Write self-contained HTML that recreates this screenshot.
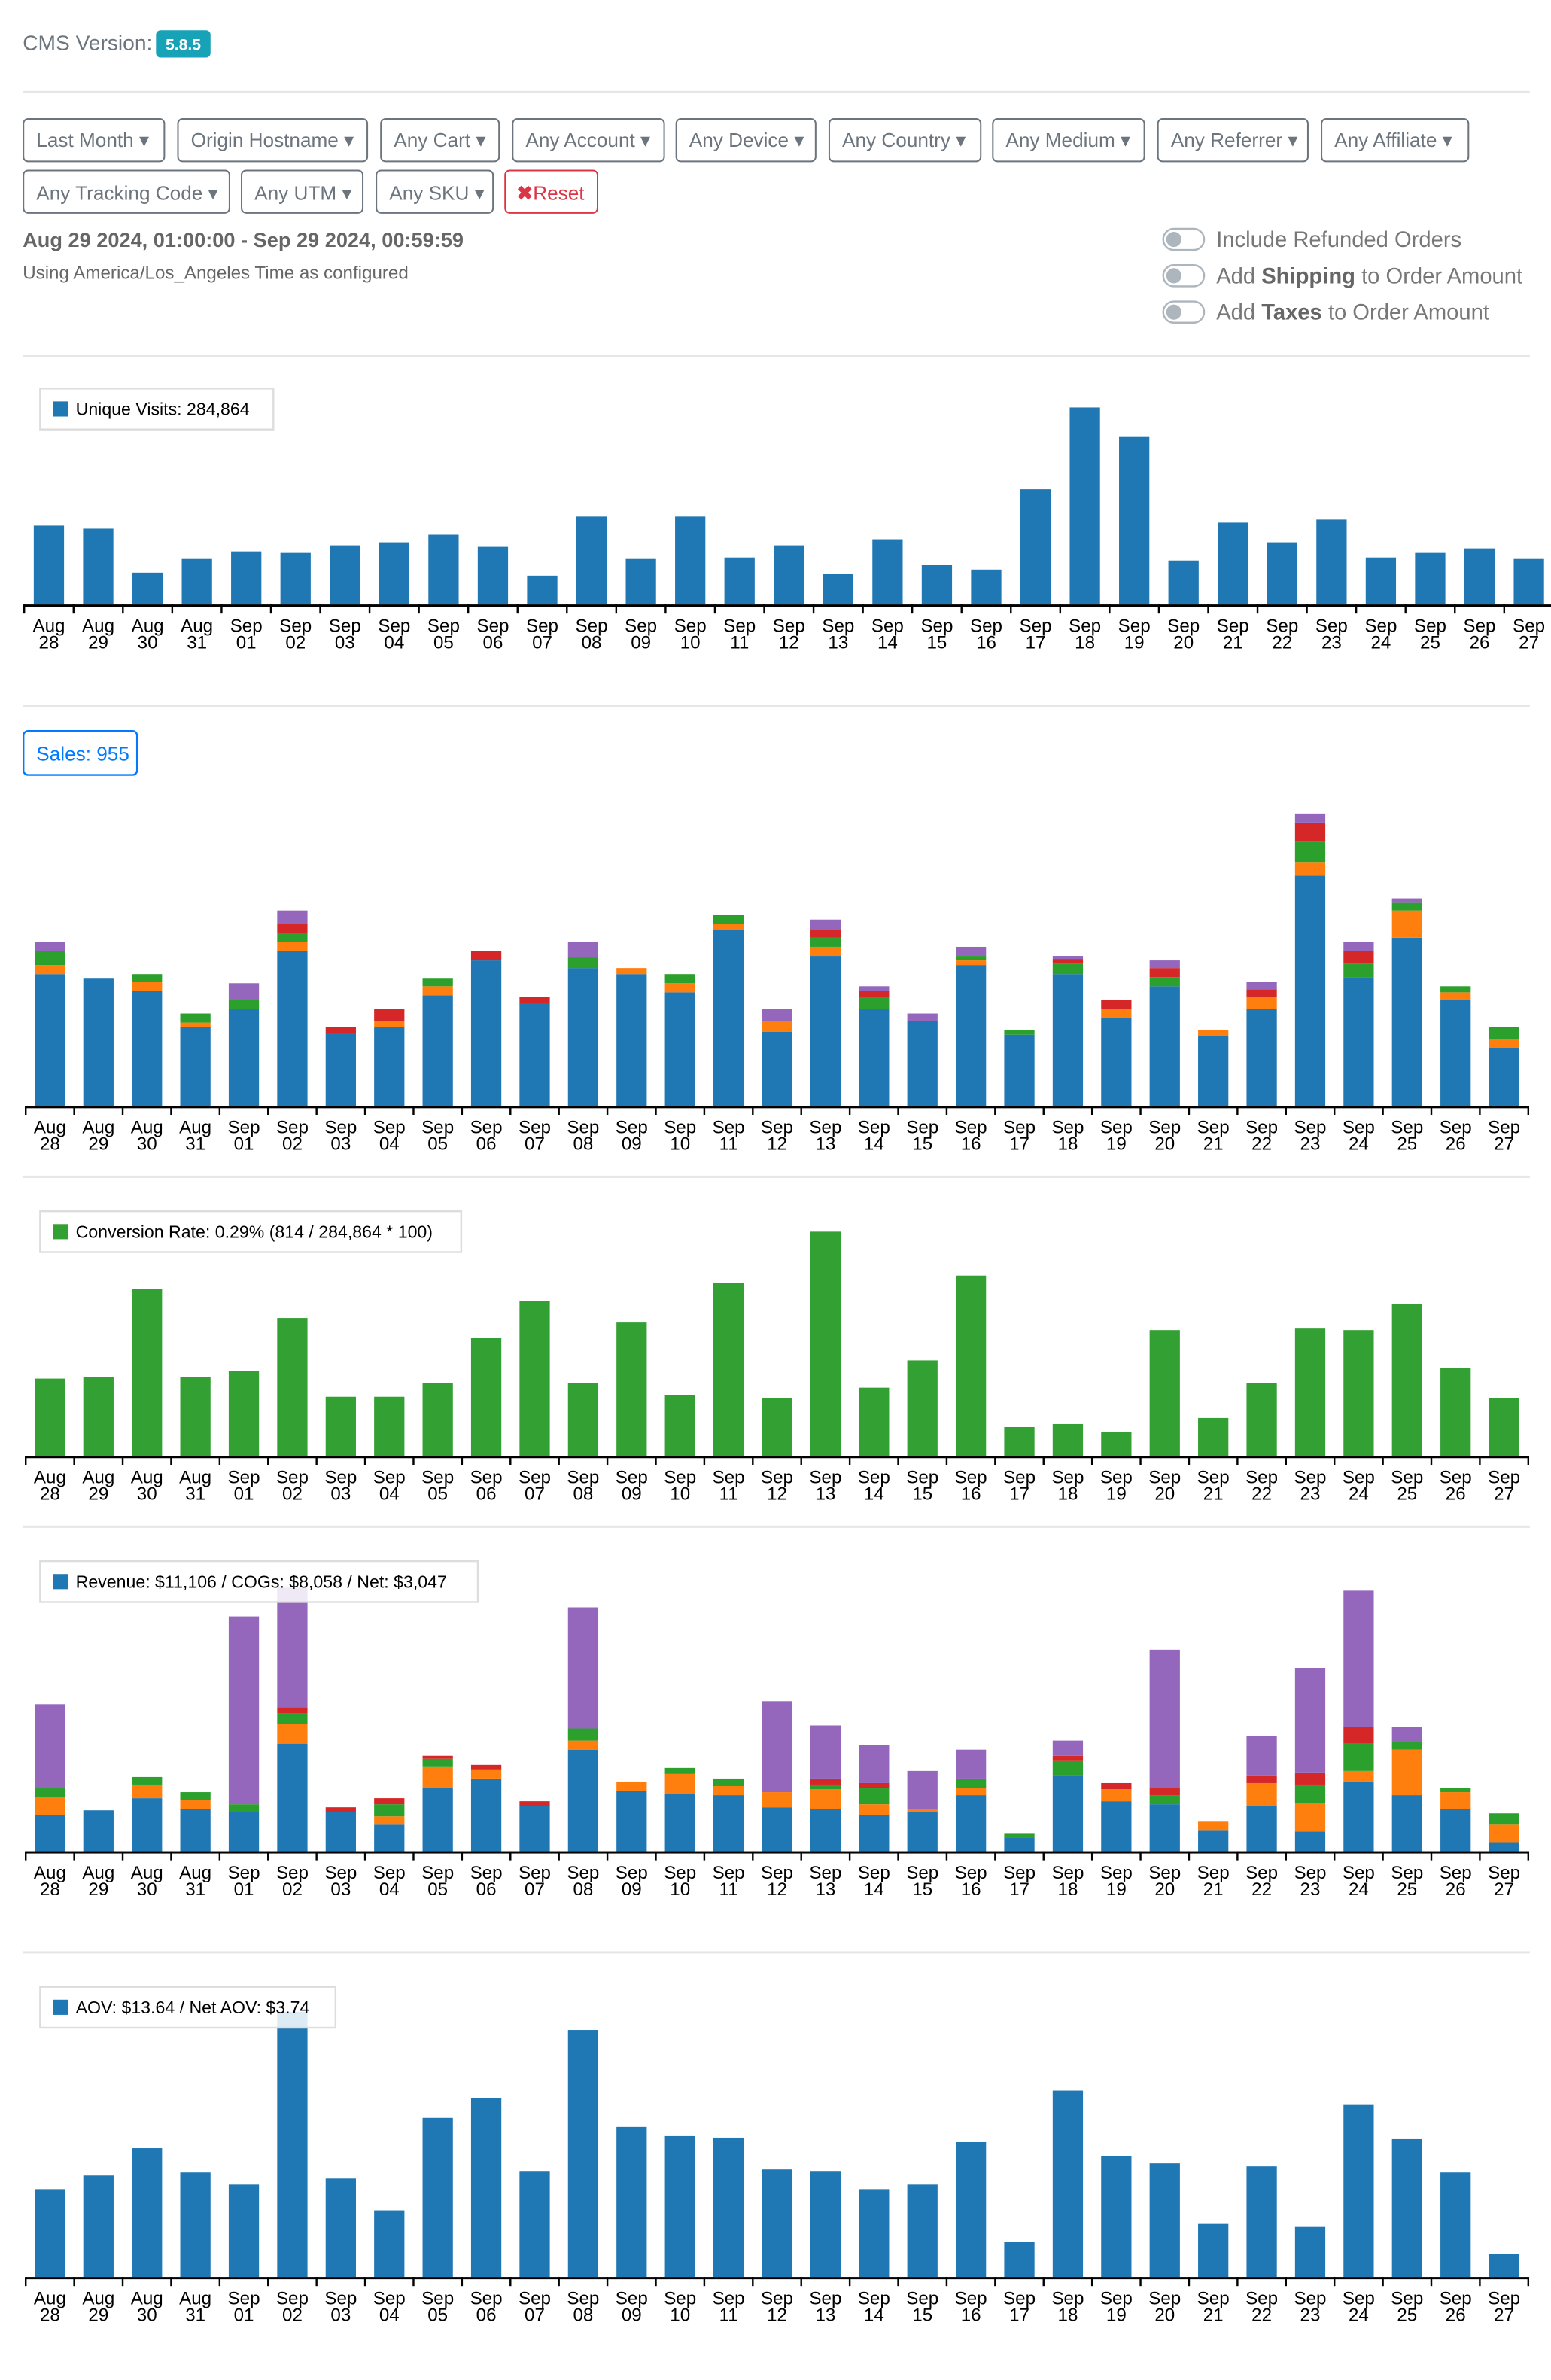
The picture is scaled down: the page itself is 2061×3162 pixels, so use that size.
<!DOCTYPE html>
<html><head><meta charset="utf-8"><style>
html,body{margin:0;padding:0;background:#fff;}
svg{display:block}
</style></head><body>
<svg id="s" xmlns="http://www.w3.org/2000/svg" width="2061" height="3162" viewBox="0 0 1024 1571" font-family="Liberation Sans, Arial, sans-serif">
<rect width="1024" height="1571" fill="#fff"/>
<text x="15" y="33" font-size="14" fill="#6c757d" font-family="Liberation Sans Narrow, Liberation Sans, sans-serif">CMS Version:</text>
<rect x="103" y="20" width="36" height="18" rx="3" fill="#17a2b8"/>
<text x="121" y="33" font-size="10.5" font-weight="bold" fill="#fff" text-anchor="middle">5.8.5</text>
<g id="g"></g>
<text x="15" y="163" font-size="13.5" font-weight="bold" fill="#666" font-family="Liberation Sans Narrow, Liberation Sans, sans-serif">Aug 29 2024, 01:00:00 - Sep 29 2024, 00:59:59</text>
<text x="15" y="184" font-size="12" fill="#666" font-family="Liberation Sans Narrow, Liberation Sans, sans-serif">Using America/Los_Angeles Time as configured</text>
<text x="803" y="163" font-size="14.5" fill="#777" font-family="Liberation Sans Narrow, Liberation Sans, sans-serif">Include Refunded Orders</text>
<text x="803" y="187" font-size="14.5" fill="#777" font-family="Liberation Sans Narrow, Liberation Sans, sans-serif">Add <tspan font-weight="bold" fill="#666">Shipping</tspan> to Order Amount</text>
<text x="803" y="211" font-size="14.5" fill="#777" font-family="Liberation Sans Narrow, Liberation Sans, sans-serif">Add <tspan font-weight="bold" fill="#666">Taxes</tspan> to Order Amount</text>
</svg>
<script>
var g=document.getElementById('g'),h='';
function R(x,y,w,hh,f,extra){h+='<rect x="'+x+'" y="'+y+'" width="'+w+'" height="'+hh+'" fill="'+f+'" '+(extra||'')+'/>';}
function T(x,y,t,sz,f,extra){h+='<text x="'+x+'" y="'+y+'" font-size="'+sz+'" fill="'+f+'" '+(extra||'')+'>'+t+'</text>';}
[60,234,465,776,1007,1288].forEach(function(y){R(15,y,995,1.5,'#e6e6e6');});
var nf='font-family="Liberation Sans Narrow, Liberation Sans, sans-serif"';
var btn=[[15,108,'Last Month'],[117,242,'Origin Hostname'],[251,329,'Any Cart'],[338,438,'Any Account'],[446,538,'Any Device'],[547,647,'Any Country'],[655,755,'Any Medium'],[764,863,'Any Referrer'],[872,969,'Any Affiliate']];
btn.forEach(function(b){R(b[0]+.5,78.5,b[1]-b[0],28,'#fff','rx="3" stroke="#6c757d" stroke-width="1"');T(b[0]+9,97,b[2]+' \u25BE',13,'#6c757d',nf);});
[[15,151,'Any Tracking Code'],[159,239,'Any UTM'],[248,325,'Any SKU']].forEach(function(b){R(b[0]+.5,112.5,b[1]-b[0],28,'#fff','rx="3" stroke="#6c757d" stroke-width="1"');T(b[0]+9,132,b[2]+' \u25BE',13,'#6c757d',nf);});
R(333.5,112.5,61,28,'#fff','rx="3" stroke="#dc3545" stroke-width="1"');T(341,132,'<tspan font-weight="bold">\u2716</tspan>Reset',13,'#dc3545',nf);
[158,182,206].forEach(function(y){R(768,y-7,27,14,'#fff','rx="7" stroke="#adb5bd" stroke-width="1.2"');h+='<circle cx="775" cy="'+y+'" r="5" fill="#adb5bd"/>';});
var C=['#1f77b4','#ff7f0e','#2ca02c','#d62728','#9467bd'];
var L=[];for(var i=28;i<=31;i++)L.push(['Aug',''+i]);for(i=1;i<=27;i++)L.push(['Sep',(i<10?'0':'')+i]);
function axis(x0,sp,base){R(x0,base,sp*31,1.5,'#000');for(var i=0;i<=31;i++){R(x0+i*sp-.6,base,1.2,6,'#000');}
for(i=0;i<31;i++){var cx=x0+(i+.5)*sp;T(cx,base+18,L[i][0],12,'#000','text-anchor="middle"');T(cx,base+29,L[i][1],12,'#000','text-anchor="middle"');}}
function simple(x0,sp,base,tops,col){for(var i=0;i<31;i++){var cx=x0+(i+.5)*sp;R(cx-10,tops[i],20,base-tops[i],col);}axis(x0,sp,base);}
function stack(x0,sp,base,data){for(var i=0;i<31;i++){var cx=x0+(i+.5)*sp,prev=base;var d=data[i];for(var k=0;k<5;k++){if(d[k]==null)continue;R(cx-10,d[k],20,prev-d[k],C[k]);prev=d[k];}}axis(x0,sp,base);}
simple(16,32.57,399,[347,349,378,369,364,365,360,358,353,361,380,341,369,341,368,360,379,356,373,376,323,269,288,370,345,358,343,368,365,362,369],C[0]);
var n=null;
stack(17,32,730,[[643,637,628,n,622],[646,n,n,n,n],[654,648,643,n,n],[678,675,669,n,n],[666,n,660,n,649],[628,622,616,610,601],[682,n,n,678,n],[678,674,n,666,n],[657,651,646,n,n],[634,n,n,628,n],[662,n,n,658,n],[639,n,632,n,622],[643,639,n,n,n],[655,649,643,n,n],[614,610,604,n,n],[681,674,n,n,666],[631,625,619,614,607],[666,n,658,654,651],[674,n,n,n,669],[637,634,631,n,625],[683,n,680,n,n],[643,n,636,633,631],[672,666,n,660,n],[651,n,645,639,634],[684,680,n,n,n],[666,658,n,653,648],[578,569,555,543,537],[645,n,636,628,622],[619,601,596,n,593],[660,655,651,n,n],[692,686,678,n,n]]);
simple(17,32,961,[910,909,851,909,905,870,922,922,913,883,859,913,873,921,847,923,813,916,898,842,942,940,945,878,936,913,877,878,861,903,923],'#33a033');
stack(17,32,1222,[[1198,1186,1180,n,1125],[1195,n,n,n,n],[1187,1178,1173,n,n],[1194,1188,1183,n,n],[1196,n,1191,n,1067],[1151,1138,1131,1127,1048],[1196,n,n,1193,n],[1204,1199,1191,1187,n],[1180,1166,1161,1159,n],[1174,1168,n,1165,n],[1192,n,n,1189,n],[1155,1149,1141,n,1061],[1182,1176,n,n,n],[1184,1171,1167,n,n],[1185,1179,1174,n,n],[1193,1183,n,n,1123],[1194,1181,1178,1174,1139],[1198,1191,1180,1177,1152],[1196,1194,n,n,1169],[1185,1180,1174,n,1155],[1213,n,1210,n,n],[1172,n,1162,1159,1149],[1189,1181,n,1177,n],[1191,n,1185,1180,1089],[1208,1202,n,n,n],[1192,1177,n,1172,1146],[1209,1190,1178,1170,1101],[1176,1169,1151,1140,1050],[1185,1155,1150,n,1140],[1194,1183,1180,n,n],[1216,1204,1197,n,n]]);
simple(17,32,1503,[1445,1436,1418,1434,1442,1328,1438,1459,1398,1385,1433,1340,1404,1410,1411,1432,1433,1445,1442,1414,1480,1380,1423,1428,1468,1430,1470,1389,1412,1434,1488],C[0]);
function leg(x,y,w,t){R(x+.5,y+.5,w,27,'#fff','fill-opacity="0.85" stroke="#ddd" stroke-width="1.2"');R(x+9,y+9,10,10,C[0]);T(x+24,y+18,t,11.5,'#000');}
leg(26,256,154,'Unique Visits: 284,864');
R(15.5,482.5,75,29,'#fff','rx="3" stroke="#007bff" stroke-width="1.2"');T(24,502,'Sales: 955',13,'#007bff',nf);
R(26.5,799.5,278,27,'#fff','stroke="#ddd" stroke-width="1.2"');R(35,808,10,10,'#33a033');T(50,817,'Conversion Rate: 0.29% (814 / 284,864 * 100)',11.5,'#000');
leg(26,1030,289,'Revenue: $11,106 / COGs: $8,058 / Net: $3,047');
leg(26,1311,195,'AOV: $13.64 / Net AOV: $3.74');
g.innerHTML=h;
</script>
</body></html>
